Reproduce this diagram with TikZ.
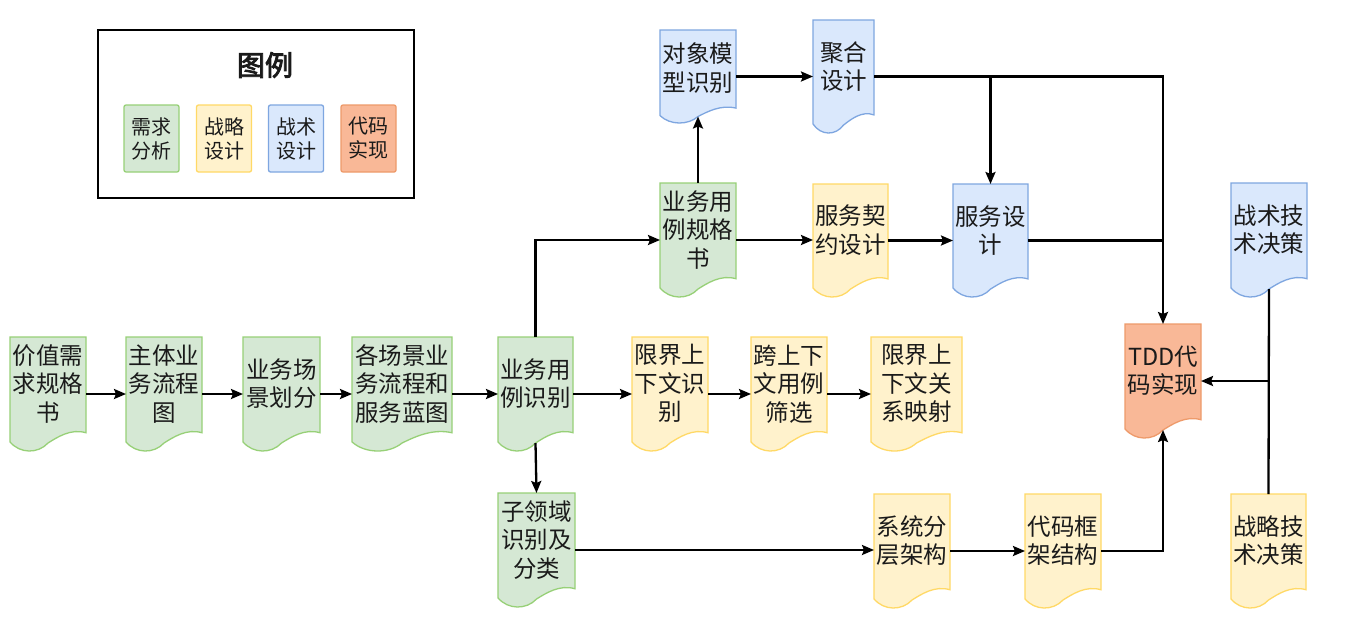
\documentclass[tikz,border=0pt]{standalone}
\usepackage{fontspec}
\setmainfont{Noto Sans CJK SC}
\newfontfamily\titlefont{Noto Sans CJK SC}[FakeBold=3]
\usetikzlibrary{arrows.meta}
\definecolor{gfill}{HTML}{D5E8D4}
\definecolor{gdraw}{HTML}{97D077}
\definecolor{yfill}{HTML}{FFF2CC}
\definecolor{ydraw}{HTML}{FFD966}
\definecolor{bfill}{HTML}{DAE8FC}
\definecolor{bdraw}{HTML}{7EA6E0}
\definecolor{ofill}{HTML}{F9B897}
\definecolor{odraw}{HTML}{EE9A6A}
\definecolor{txt}{HTML}{1A1A1A}
\tikzset{
  arr/.style={line width=2.3pt, -{Stealth[length=12pt,width=10pt,inset=2pt]}},
  ln/.style={line width=2.3pt},
  gdoc/.style={fill=gfill, draw=gdraw, line width=1.3pt},
  ydoc/.style={fill=yfill, draw=ydraw, line width=1.3pt},
  bdoc/.style={fill=bfill, draw=bdraw, line width=1.3pt},
  odoc/.style={fill=ofill, draw=odraw, line width=1.3pt},
  doctext/.style={align=center, font=\fontsize{23.5}{28.5}\selectfont, text=txt, inner sep=0pt},
  legbox/.style={minimum width=55pt, minimum height=67pt, rounded corners=2pt, align=center,
    inner sep=0pt, text=txt, font=\fontsize{20}{24}\selectfont},
}
% name, style, x1, y1, x2, y2, text
\newcommand\docnode[7]{%
  \pgfmathsetmacro\dw{#5-#3}%
  \pgfmathsetmacro\dh{#6-#4}%
  \path[#2] (#3,#4) -- (#5,#4) -- (#5,{#6-0.16*\dh})
    .. controls ({#3+0.8*\dw},{#6-0.2*\dh}) and ({#3+0.62*\dw},{#6-0.12*\dh}) .. ({#3+0.5*\dw},{#6-0.07*\dh})
    .. controls ({#3+0.37*\dw},{#6+0.025*\dh}) and ({#3+0.13*\dw},{#6+0.025*\dh}) .. (#3,{#6-0.08*\dh}) -- cycle;
  \node[inner sep=0pt, outer sep=0pt, minimum width=\dw pt, minimum height=\dh pt] (#1) at ({(#3+#5)/2},{(#4+#6)/2}) {};
  \coordinate (#1b) at ({#3+0.5*\dw},{#6-0.07*\dh});
  \node[doctext] at ({(#3+#5)/2},{#4+0.41*\dh}) {#7};
}
\begin{document}
\begin{tikzpicture}[x=1pt, y=-1pt]
\useasboundingbox (0,0) rectangle (1355,629);
\fill[white] (0,0) rectangle (1355,629);

% legend
\node[draw=black, line width=2pt, minimum width=316pt, minimum height=168pt, inner sep=0pt] (legend) at (256,114) {};
\node[font=\titlefont\fontsize{28}{30}\selectfont, text=txt] (legtitle) at (265,65) {图例};
\node[legbox, gdoc] (lg1) at (151.5,138.5) {需求\\分析};
\node[legbox, ydoc] (lg2) at (224,138.5) {战略\\设计};
\node[legbox, bdoc] (lg3) at (296,138.5) {战术\\设计};
\node[legbox, odoc] (lg4) at (368.5,138.5) {代码\\实现};

% main row
\docnode{v1}{gdoc}{10}{337}{86}{451}{价值需\\求规格\\书}
\docnode{v2}{gdoc}{126}{337}{202}{451}{主体业\\务流程\\图}
\docnode{v3}{gdoc}{243}{337}{320}{451}{业务场\\景划分}
\docnode{v4}{gdoc}{352}{337}{452}{451}{各场景业\\务流程和\\服务蓝图}
\docnode{yysb}{gdoc}{498}{337}{573}{451}{业务用\\例识别}
\docnode{xj}{ydoc}{632}{337}{708}{451}{限界上\\下文识\\别}
\docnode{kx}{ydoc}{751}{337}{827}{451}{跨上下\\文用例\\筛选}
\docnode{xg}{ydoc}{871}{337}{962}{451}{限界上\\下文关\\系映射}

% upper rows
\docnode{yygg}{gdoc}{660}{183}{736}{297}{业务用\\例规格\\书}
\docnode{fwqy}{ydoc}{813}{184}{888}{297}{服务契\\约设计}
\docnode{fw}{bdoc}{953}{184}{1028}{297}{服务设\\计}
\docnode{zs}{bdoc}{1231}{183}{1307}{297}{战术技\\术决策}
\docnode{dx}{bdoc}{660}{30}{736}{123}{对象模\\型识别}
\docnode{jh}{bdoc}{813}{20}{874}{133}{聚合\\设计}

% bottom row
\docnode{zly}{gdoc}{498}{493}{575}{607}{子领域\\识别及\\分类}
\docnode{xt}{ydoc}{874}{494}{950}{608}{系统分\\层架构}
\docnode{dm}{ydoc}{1025}{494}{1101}{608}{代码框\\架结构}
\docnode{zl}{ydoc}{1231}{494}{1306}{608}{战略技\\术决策}

% TDD
\docnode{tdd}{odoc}{1125}{324}{1201}{438}{TDD代\\码实现}

% connectors main row
\draw[arr] (v1.east) -- (v2.west);
\draw[arr] (v2.east) -- (v3.west);
\draw[arr] (v3.east) -- (v4.west);
\draw[arr] (v4.east) -- (yysb.west);
\draw[arr] (yysb.east) -- (xj.west);
\draw[arr] (xj.east) -- (kx.west);
\draw[arr] (kx.east) -- (xg.west);

% branches from 业务用例识别
\draw[arr] (yysb.north) |- (yygg.west);
\draw[arr] (yysbb) -- (zly.north);

% upper
\draw[arr] (yygg.north) -- (dxb);
\draw[arr] (dx.east) -- (jh.west);
\draw[arr] (jh.east) -| (tdd.north);
\draw[arr] (jh.east -| fw.north) -- (fw.north);
\draw[arr] (yygg.east) -- (yygg.east -| fwqy.west);
\draw[arr] (fwqy.east) -- (fwqy.east -| fw.west);
\draw[ln] (fw.east) -- (fw.east -| tdd.north);

% bottom
\draw[arr] (zly.east) -- (zly.east -| xt.west);
\draw[arr] (xt.east) -- (dm.west);
\draw[arr] (dm.east) -| (tddb);

% decisions
\draw[ln] (zsb) -- (zl.north);
\draw[arr] (zsb |- tdd.east) -- (tdd.east);
\end{tikzpicture}
\end{document}
